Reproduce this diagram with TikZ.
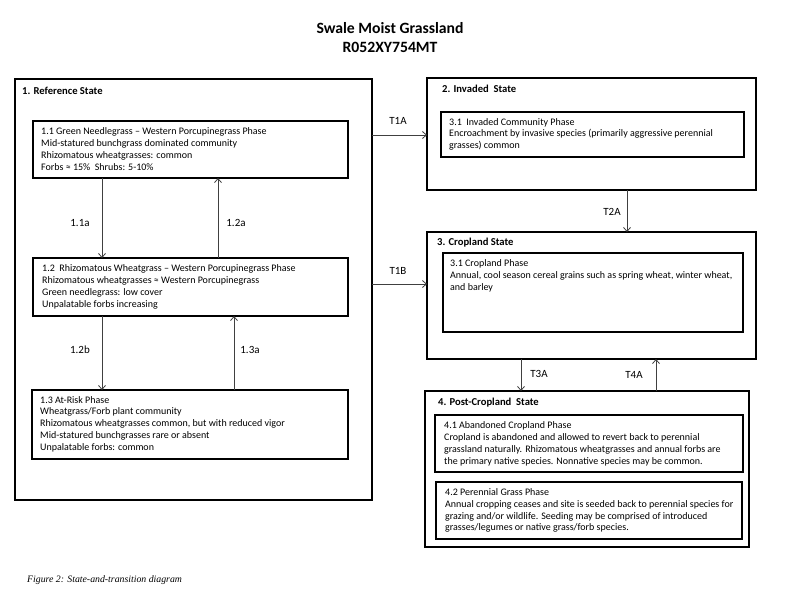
\documentclass[tikz,border=0pt]{standalone}
\usepackage{fontspec}
\setmainfont{Carlito}
\newfontfamily\capfont{Liberation Serif}
\usetikzlibrary{arrows.meta,calc}
\begin{document}
\begin{tikzpicture}[x=1pt,y=-1pt,
  outerbox/.style={draw,line width=2.2pt,anchor=north west,inner sep=0pt,outer sep=0pt},
  innerbox/.style={draw,line width=1.8pt,anchor=north west,inner sep=0pt,outer sep=0pt},
  body/.style={anchor=north west,inner sep=0pt,align=left,font=\fontsize{10}{11.8}\selectfont},
  statelab/.style={anchor=north west,inner sep=0pt,font=\bfseries\fontsize{10.6}{12}\selectfont},
  conn/.style={draw=black!75,line width=0.8pt,-{Straight Barb[length=4pt,width=7pt]}},
  tlab/.style={font=\fontsize{11}{13}\selectfont,inner sep=0pt},
  titlefont/.style={font=\bfseries\fontsize{15.7}{18}\selectfont,inner sep=0pt}]
\useasboundingbox (0,0) rectangle (800,600);
\fill[white] (0,0) rectangle (800,600);
% title
\node[titlefont] (title1) at (390,28) {Swale Moist Grassland};
\node[titlefont] (title2) at (390,47) {R052XY754MT};
% state boxes
\node[outerbox,minimum width=357pt,minimum height=421pt] (b1) at (15,79) {};
\node[outerbox,minimum width=329pt,minimum height=112pt] (b2) at (427,78) {};
\node[outerbox,minimum width=329pt,minimum height=127pt] (b3) at (427,232) {};
\node[outerbox,minimum width=324pt,minimum height=156pt] (b4) at (425,391) {};
% phase boxes
\node[innerbox,minimum width=315pt,minimum height=57pt] (b11) at (33,121) {};
\node[innerbox,minimum width=315pt,minimum height=58pt] (b12) at (33,258) {};
\node[innerbox,minimum width=316pt,minimum height=69pt] (b13) at (32,390) {};
\node[innerbox,minimum width=303pt,minimum height=45pt] (bi) at (441,112) {};
\node[innerbox,minimum width=300pt,minimum height=79pt] (bc) at (443,253) {};
\node[innerbox,minimum width=308pt,minimum height=57pt] (b41) at (435,415) {};
\node[innerbox,minimum width=306pt,minimum height=57pt] (b42) at (436,482) {};
% state labels
\node[statelab] (s1) at ($(b1.north west)+(7,7.8)$) {1. Reference State};
\node[statelab] (s2) at ($(b2.north west)+(15,7.3)$) {2. Invaded\ \ State};
\node[statelab] (s3) at ($(b3.north west)+(10,5.8)$) {3. Cropland State};
\node[statelab] (s4) at ($(b4.north west)+(13,6.8)$) {4. Post-Cropland\ \ State};
% phase texts
\node[body] (t11) at ($(b11.north west)+(8,6.7)$) {1.1 Green Needlegrass – Western Porcupinegrass Phase\\Mid-statured bunchgrass dominated community\\Rhizomatous wheatgrasses: common\\Forbs ≈ 15\%\ \ Shrubs: 5-10\%};
\node[body] (t12) at ($(b12.north west)+(9,6.7)$) {1.2\ \ Rhizomatous Wheatgrass – Western Porcupinegrass Phase\\Rhizomatous wheatgrasses ≈ Western Porcupinegrass\\Green needlegrass: low cover\\Unpalatable forbs increasing};
\node[body] (t13) at ($(b13.north west)+(8,6)$) {1.3 At-Risk Phase\\Wheatgrass/Forb plant community\\Rhizomatous wheatgrasses common, but with reduced vigor\\Mid-statured bunchgrasses rare or absent\\Unpalatable forbs: common};
\node[body] (ti) at ($(bi.north west)+(8,6)$) {3.1\ \ Invaded Community Phase\\Encroachment by invasive species (primarily aggressive perennial\\grasses) common};
\node[body] (tc) at ($(bc.north west)+(7,6.5)$) {3.1 Cropland Phase\\Annual, cool season cereal grains such as spring wheat, winter wheat,\\and barley};
\node[body] (t41) at ($(b41.north west)+(9,6.5)$) {4.1 Abandoned Cropland Phase\\Cropland is abandoned and allowed to revert back to perennial\\grassland naturally. Rhizomatous wheatgrasses and annual forbs are\\the primary native species. Nonnative species may be common.};
\node[body] (t42) at ($(b42.north west)+(9,6.3)$) {4.2 Perennial Grass Phase\\Annual cropping ceases and site is seeded back to perennial species for\\grazing and/or wildlife. Seeding may be comprised of introduced\\grasses/legumes or native grass/forb species.};
% connector positions
\coordinate (x11a) at (102,0);
\coordinate (x12a) at (218,0);
\coordinate (x12b) at (102,0);
\coordinate (x13a) at (234,0);
\coordinate (yT1A) at (0,135);
\coordinate (yT1B) at (0,284);
\coordinate (xT2A) at (627,0);
\coordinate (xT3A) at (521,0);
\coordinate (xT4A) at (656,0);
% connectors
\draw[conn] (b11.south -| x11a) -- (b12.north -| x11a);
\draw[conn] (b12.north -| x12a) -- (b11.south -| x12a);
\draw[conn] (b12.south -| x12b) -- (b13.north -| x12b);
\draw[conn] (b13.north -| x13a) -- (b12.south -| x13a);
\draw[conn] (b1.east |- yT1A) -- (b2.west |- yT1A);
\draw[conn] (b1.east |- yT1B) -- (b3.west |- yT1B);
\draw[conn] (b2.south -| xT2A) -- (b3.north -| xT2A);
\draw[conn] (b3.south -| xT3A) -- (b4.north -| xT3A);
\draw[conn] (b4.north -| xT4A) -- (b3.south -| xT4A);
% connector labels
\node[tlab] (l11a) at (80,223) {1.1a};
\node[tlab] (l12a) at (236,223) {1.2a};
\node[tlab] (l12b) at (80,350) {1.2b};
\node[tlab] (l13a) at (250,350) {1.3a};
\node[tlab] (lT1A) at (398,121) {T1A};
\node[tlab] (lT1B) at (398,271) {T1B};
\node[tlab] (lT2A) at (612,212) {T2A};
\node[tlab] (lT3A) at (539,374) {T3A};
\node[tlab] (lT4A) at (634,375) {T4A};
% caption
\node[anchor=west,inner sep=0pt,font=\capfont\itshape\fontsize{9.8}{11}\selectfont] (cap) at (27,580) {Figure 2: State-and-transition diagram};
\end{tikzpicture}
\end{document}
